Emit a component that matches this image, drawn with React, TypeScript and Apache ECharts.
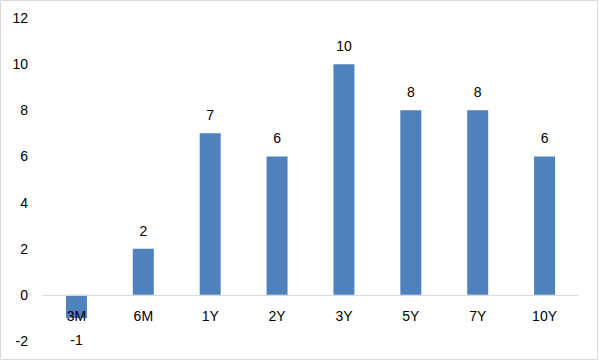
import React, { useEffect, useRef } from "react";
import * as echarts from "echarts";

const categories = ["3M", "6M", "1Y", "2Y", "3Y", "5Y", "7Y", "10Y"];
const values = [-1, 2, 7, 6, 10, 8, 8, 6];
const yMin = -2;
const yMax = 12;
const yInterval = 2;

export default function App() {
  const ref = useRef<HTMLDivElement>(null);
  useEffect(() => {
    if (!ref.current) return;
    const chart = echarts.init(ref.current, undefined, { renderer: "svg" });
    const font = "'Liberation Sans', Arial, sans-serif";
    const gridTop = 18;
    const gridBottom = 20;
    chart.setOption({
      animation: false,
      backgroundColor: "#ffffff",
      textStyle: { fontFamily: font },
      graphic: [
        {
          type: "rect",
          shape: { x: 0.5, y: 0.5, width: 597, height: 359 },
          style: { fill: "none", stroke: "#d9d9d9", lineWidth: 1 },
          silent: true,
        },
      ],
      grid: {
        left: 43,
        right: 21,
        top: gridTop,
        bottom: gridBottom,
        containLabel: false,
        outerBoundsMode: "none",
      },
      xAxis: {
        type: "category",
        data: categories,
        z: 5,
        position: "bottom",
        axisLine: { show: true, onZero: false, lineStyle: { color: "#d9d9d9", width: 1 } },
        axisTick: { show: false },
        axisLabel: { color: "#000", fontSize: 14, fontFamily: font, margin: 14 },
        splitLine: { show: false },
      },
      yAxis: {
        type: "value",
        min: yMin,
        max: yMax,
        interval: yInterval,
        axisLine: { show: false },
        axisTick: { show: false },
        splitLine: { show: false },
        axisLabel: { color: "#000", fontSize: 14, fontFamily: font, margin: 15 },
      },
      series: [
        {
          type: "bar",
          data: values.map((v) =>
            v < 0
              ? { value: v, label: { position: "bottom", distance: 15 } }
              : v
          ),
          barWidth: 21,
          itemStyle: { color: "#4f81bd" },
          label: {
            show: true,
            position: "top",
            distance: 11,
            color: "#000",
            fontSize: 14,
            fontFamily: font,
          },
        },
      ],
    });
    // move the category axis (line and labels) to the zero line
    const zeroY = chart.convertToPixel({ yAxisIndex: 0 }, 0) as number;
    const minY = chart.convertToPixel({ yAxisIndex: 0 }, yMin) as number;
    chart.setOption({ xAxis: { offset: -(minY - zeroY) } });
    return () => chart.dispose();
  }, []);
  return (
    <div
      ref={ref}
      style={{ position: "fixed", left: 0, top: 0, width: 599, height: 361 }}
    />
  );
}
